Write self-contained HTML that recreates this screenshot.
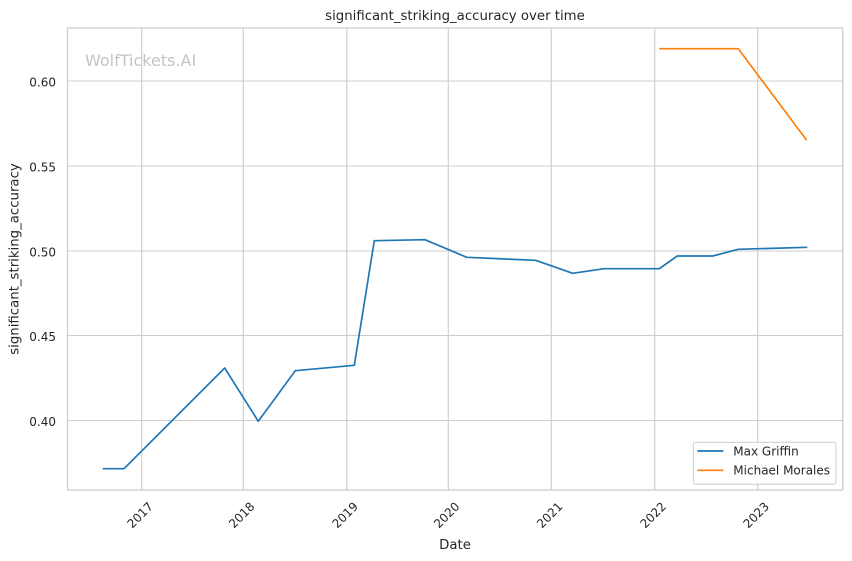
<!DOCTYPE html>
<html><head><meta charset="utf-8"><style>
html,body{margin:0;padding:0;background:#fff;}
svg{display:block;font-family:"DejaVu Sans","Liberation Sans",sans-serif;}
</style></head><body>
<svg width="852" height="561" viewBox="0 0 852 561" xmlns="http://www.w3.org/2000/svg">
<rect width="852" height="561" fill="#fff"/>
<g stroke="#cccccc" stroke-width="1.1" fill="none">
<line x1="141.7" y1="28" x2="141.7" y2="490"/>
<line x1="243.3" y1="28" x2="243.3" y2="490"/>
<line x1="346.7" y1="28" x2="346.7" y2="490"/>
<line x1="448.3" y1="28" x2="448.3" y2="490"/>
<line x1="551.3" y1="28" x2="551.3" y2="490"/>
<line x1="654.7" y1="28" x2="654.7" y2="490"/>
<line x1="757.7" y1="28" x2="757.7" y2="490"/>
<line x1="67.5" y1="81" x2="842.7" y2="81"/>
<line x1="67.5" y1="166" x2="842.7" y2="166"/>
<line x1="67.5" y1="251" x2="842.7" y2="251"/>
<line x1="67.5" y1="335.5" x2="842.7" y2="335.5"/>
<line x1="67.5" y1="420.5" x2="842.7" y2="420.5"/>
<rect x="67.5" y="28" width="775.2" height="462" stroke-width="1.3"/>
</g>
<text x="85" y="66" font-size="16" fill="#c4c4c4">WolfTickets.AI</text>
<polyline fill="none" stroke="#1f77b4" stroke-width="1.7" stroke-linejoin="round" points="102.7,468.7 124,468.7 224.7,368 258.3,421.3 295.3,370.7 354.3,365.3 374.3,240.7 425,239.7 466.7,257.3 535.7,260.3 572.7,273.3 604,268.7 659.3,268.7 677.3,256 712.7,256 738.3,249.3 807.3,247.3"/>
<polyline fill="none" stroke="#ff7f0e" stroke-width="1.7" stroke-linejoin="round" points="659.3,48.7 738.3,48.7 806.7,140.3"/>
<g font-size="12" fill="#262626" text-anchor="end">
<text x="56" y="86.3">0.60</text>
<text x="56" y="171.3">0.55</text>
<text x="56" y="256.3">0.50</text>
<text x="56" y="340.8">0.45</text>
<text x="56" y="425.8">0.40</text>
</g>
<g font-size="12" fill="#262626" text-anchor="middle">
<text transform="translate(140,515) rotate(-45)" dy="4.3">2017</text>
<text transform="translate(241.6,515) rotate(-45)" dy="4.3">2018</text>
<text transform="translate(345,515) rotate(-45)" dy="4.3">2019</text>
<text transform="translate(446.6,515) rotate(-45)" dy="4.3">2020</text>
<text transform="translate(549.6,515) rotate(-45)" dy="4.3">2021</text>
<text transform="translate(653,515) rotate(-45)" dy="4.3">2022</text>
<text transform="translate(756,515) rotate(-45)" dy="4.3">2023</text>
</g>
<text x="455" y="20" font-size="13.3" fill="#262626" text-anchor="middle">significant_striking_accuracy over time</text>
<text x="455" y="549" font-size="13.3" fill="#262626" text-anchor="middle">Date</text>
<text transform="translate(18.5,259) rotate(-90)" font-size="13.3" fill="#262626" text-anchor="middle">significant_striking_accuracy</text>
<rect x="693.3" y="442.3" width="142.7" height="42" rx="2.5" fill="#fff" fill-opacity="0.8" stroke="#cccccc" stroke-width="1"/>
<line x1="697.3" y1="451" x2="723.3" y2="451" stroke="#1f77b4" stroke-width="1.7"/>
<line x1="697.3" y1="470.3" x2="723.3" y2="470.3" stroke="#ff7f0e" stroke-width="1.7"/>
<g font-size="12" fill="#262626">
<text x="733.3" y="455.3">Max Griffin</text>
<text x="733.3" y="474.6">Michael Morales</text>
</g>
</svg>
</body></html>
